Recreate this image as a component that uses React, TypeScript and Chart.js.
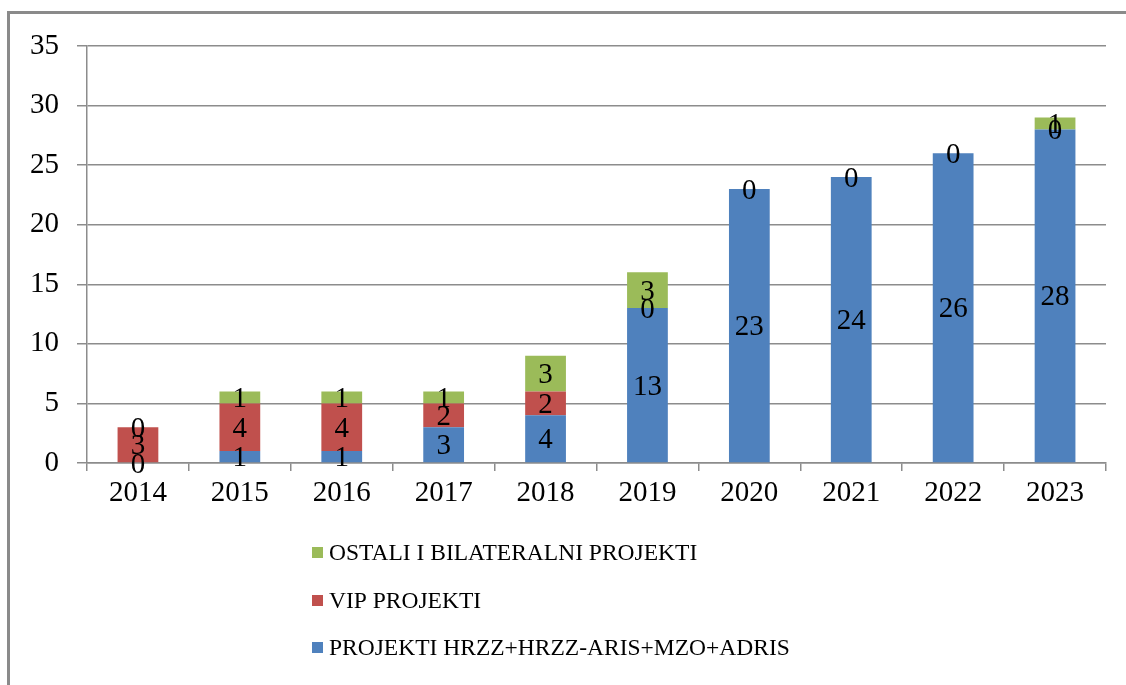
import React, { useEffect, useRef } from "react";
import { Chart, registerables } from "chart.js";

Chart.register(...registerables);

const years = ["2014", "2015", "2016", "2017", "2018", "2019", "2020", "2021", "2022", "2023"];
const hrzz = [0, 1, 1, 3, 4, 13, 23, 24, 26, 28];
const vip = [3, 4, 4, 2, 2, 0, 0, 0, 0, 0];
const ostali = [0, 1, 1, 1, 3, 3, null, null, null, 1];
const seriesNames = [
  "PROJEKTI HRZZ+HRZZ-ARIS+MZO+ADRIS",
  "VIP PROJEKTI",
  "OSTALI I BILATERALNI PROJEKTI",
];
const colors = ["#4F81BD", "#C0504D", "#9BBB59"];
const yTicks = [0, 5, 10, 15, 20, 25, 30, 35];

const FONT = "'Liberation Serif', 'Times New Roman', serif";

const labelPlugin = {
  id: "barLabels",
  afterDatasetsDraw(chart: any) {
    const ctx = chart.ctx;
    ctx.save();
    ctx.font = `29px ${FONT}`;
    ctx.fillStyle = "#000";
    ctx.textAlign = "center";
    ctx.textBaseline = "middle";
    chart.data.datasets.forEach((ds: any, di: number) => {
      const meta = chart.getDatasetMeta(di);
      meta.data.forEach((el: any, i: number) => {
        const v = ds.data[i];
        if (v === null || v === undefined) return;
        const cy = (el.y + el.base) / 2;
        ctx.fillText(String(v), el.x, cy + 2);
      });
    });
    ctx.restore();
  },
};

const legendPlugin = {
  id: "customLegend",
  afterDraw(chart: any) {
    const ctx = chart.ctx;
    ctx.save();
    ctx.font = `23.5px ${FONT}`;
    ctx.textBaseline = "middle";
    ctx.textAlign = "left";
    const order = [2, 1, 0];
    const rows = [553, 601, 648];
    order.forEach((di, r) => {
      const y = rows[r];
      ctx.fillStyle = colors[di];
      ctx.fillRect(312, y - 6, 11, 11);
      ctx.fillStyle = "#000";
      ctx.fillText(seriesNames[di], 329, y + 1);
    });
    ctx.restore();
  },
};

export default function App() {
  const ref = useRef<HTMLCanvasElement>(null);
  useEffect(() => {
    if (!ref.current) return;
    const chart = new Chart(ref.current, {
      type: "bar",
      data: {
        labels: years,
        datasets: [
          { label: seriesNames[0], data: hrzz, backgroundColor: colors[0] },
          { label: seriesNames[1], data: vip, backgroundColor: colors[1] },
          { label: seriesNames[2], data: ostali as any, backgroundColor: colors[2] },
        ],
      },
      options: {
        animation: false,
        responsive: false,
        maintainAspectRatio: false,
        layout: { padding: { left: 0, right: 20, top: 46, bottom: 172 } },
        plugins: { legend: { display: false }, tooltip: { enabled: false } },
        datasets: { bar: { categoryPercentage: 1, barPercentage: 0.4 } },
        scales: {
          x: {
            stacked: true,
            afterFit: (s: any) => {
              s.height = 50;
            },
            grid: {
              drawOnChartArea: false,
              drawTicks: true,
              tickLength: 8,
              color: "#8c8c8c",
              lineWidth: 1.5,
            },
            border: { color: "#8c8c8c", width: 1.5 },
            ticks: { color: "#000", font: { family: FONT, size: 29 }, padding: 5 },
          },
          y: {
            stacked: true,
            min: 0,
            max: 35,
            afterFit: (s: any) => {
              s.width = 87;
            },
            afterBuildTicks: (s: any) => {
              s.ticks = yTicks.map((v) => ({ value: v }));
            },
            grid: { color: "#8c8c8c", lineWidth: 1.5, tickLength: 10 },
            border: { color: "#8c8c8c", width: 1.5 },
            ticks: { color: "#000", font: { family: FONT, size: 29 }, padding: 18 },
          },
        },
      },
      plugins: [labelPlugin, legendPlugin],
    });
    return () => chart.destroy();
  }, []);
  return (
    <div>
      <div
        style={{
          position: "fixed",
          left: 7,
          top: 11,
          width: 2000,
          height: 2000,
          border: "3px solid #8a8a8a",
          boxSizing: "border-box",
        }}
      />
      <canvas
        ref={ref}
        width={1126}
        height={685}
        style={{ position: "fixed", left: 0, top: 0, width: 1126, height: 685 }}
      />
    </div>
  );
}
